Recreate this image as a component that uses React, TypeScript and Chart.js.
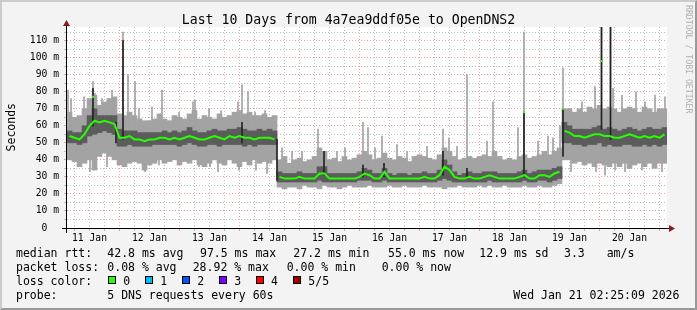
import React, { useEffect, useRef } from 'react';
import { Chart, registerables } from 'chart.js';

Chart.register(...registerables);

const TITLE = 'Last 10 Days from 4a7ea9ddf05e to OpenDNS2';
const DAY_LABELS = ['11 Jan', '12 Jan', '13 Jan', '14 Jan', '15 Jan', '16 Jan', '17 Jan', '18 Jan', '19 Jan', '20 Jan'];
const SPAN_HOURS = 240;
const SLOT_HOURS = 2;
const FIRST_MIDNIGHT = 21;
const FIRST_NOON = 9;
const Y_MAX = 118;
const Y_STEP = 5;

// outer smoke (lightest) per 2-hour slot, ms
const SMOKE_MIN = [
  40, 39, 36, 38, 40, 34, 42, 44, 42, 40,
  37, 36, 38, 39, 38, 34, 37, 38, 40, 38,
  39, 40, 37, 39, 38, 40, 37, 36, 38, 40,
  38, 37, 40, 38, 36, 39, 37, 40, 38, 39,
  38, 40, 24, 23, 24, 24, 23, 25, 24, 24,
  23, 25, 24, 24, 23, 24, 25, 24, 24, 24,
  25, 24, 24, 24, 25, 24, 24, 25, 24, 24,
  24, 25, 24, 24, 24, 23, 24, 24, 25, 24,
  24, 24, 25, 24, 25, 24, 24, 25, 24, 24,
  24, 25, 24, 24, 25, 24, 24, 25, 26, 40,
  40, 38, 39, 37, 38, 36, 38, 37, 36, 38,
  36, 38, 35, 37, 38, 36, 38, 35, 38, 38,
];
const SMOKE_MAX = [
  68, 65, 66, 70, 76, 78, 72, 74, 76, 77,
  67, 66, 68, 66, 64, 63, 63, 64, 67, 64,
  63, 66, 65, 64, 67, 69, 64, 66, 65, 64,
  67, 65, 66, 68, 69, 67, 68, 66, 66, 67,
  65, 66, 40, 42, 38, 40, 41, 39, 40, 42,
  47, 45, 40, 41, 39, 42, 40, 41, 43, 45,
  43, 40, 41, 44, 41, 40, 42, 41, 39, 42,
  43, 42, 41, 40, 43, 47, 45, 42, 40, 41,
  42, 41, 42, 43, 42, 45, 42, 40, 41, 40,
  42, 43, 41, 42, 43, 45, 43, 45, 47, 70,
  70, 68, 70, 68, 71, 70, 72, 70, 71, 70,
  68, 70, 71, 70, 68, 71, 70, 68, 70, 70,
];
// inner smoke (darker)
const CORE_LOW = [
  50, 50, 49, 50, 54, 55, 56, 57, 56, 55,
  48, 48, 49, 48, 48, 48, 48, 49, 49, 49,
  49, 49, 48, 49, 50, 49, 48, 48, 49, 49,
  48, 49, 49, 49, 49, 48, 49, 48, 49, 49,
  49, 49, 27, 27, 27, 27, 27, 27, 27, 27,
  28, 27, 27, 27, 27, 27, 27, 27, 28, 28,
  28, 27, 27, 28, 27, 27, 27, 27, 27, 27,
  27, 27, 27, 27, 28, 29, 28, 27, 27, 27,
  27, 27, 27, 27, 28, 27, 27, 27, 27, 27,
  27, 28, 27, 27, 28, 28, 27, 28, 29, 50,
  50, 49, 49, 48, 49, 49, 50, 48, 49, 48,
  48, 49, 49, 48, 48, 49, 48, 49, 48, 49,
];
const CORE_HIGH = [
  57, 56, 56, 60, 66, 70, 66, 66, 66, 66,
  58, 57, 57, 57, 56, 56, 56, 56, 56, 57,
  56, 57, 56, 57, 59, 57, 56, 56, 57, 58,
  57, 57, 58, 58, 59, 58, 57, 57, 58, 57,
  58, 57, 33, 32, 32, 32, 33, 32, 32, 32,
  36, 36, 32, 32, 32, 32, 32, 32, 33, 35,
  34, 32, 32, 35, 32, 31, 32, 32, 31, 32,
  32, 33, 32, 32, 34, 40, 37, 33, 31, 32,
  33, 32, 32, 33, 33, 33, 32, 32, 32, 32,
  33, 34, 32, 33, 34, 34, 34, 35, 36, 62,
  60, 58, 58, 58, 58, 59, 60, 58, 59, 58,
  57, 58, 59, 58, 57, 58, 59, 58, 58, 59,
];
const MEDIAN = [
  54, 53, 52, 55, 60, 63, 62, 63, 62, 61,
  53, 53, 54, 52, 52, 51, 52, 52, 53, 53,
  52, 53, 52, 53, 54, 53, 52, 52, 53, 54,
  53, 52, 54, 53, 54, 53, 53, 52, 53, 53,
  53, 52, 30, 29, 29, 29, 30, 29, 29, 29,
  32, 32, 29, 29, 29, 29, 29, 29, 30, 32,
  31, 29, 29, 33, 29, 29, 29, 29, 29, 29,
  29, 30, 29, 29, 31, 36, 34, 30, 29, 29,
  30, 29, 29, 30, 31, 30, 29, 29, 29, 29,
  30, 31, 29, 29, 31, 31, 30, 32, 33, 57,
  56, 54, 54, 53, 54, 55, 55, 54, 54, 53,
  53, 54, 55, 54, 53, 54, 53, 54, 53, 55,
];

// isolated single-pixel smoke spikes: hour, low, high (ms)
const SPIKE_HOURS = [
  0.4, 1.6, 6.8, 9.2, 10.4, 11.2, 14, 16, 18, 22.4,
  24.4, 27.2, 28.8, 31.2, 34, 36.8, 38, 44.8, 50.4, 51.2,
  52.8, 56.8, 57.2, 60.4, 61.6, 68.4, 68.8, 70, 72.4, 75.2,
  75.6, 79.2, 80, 86, 90, 94, 100.4, 108, 111.2, 118.4,
  120.4, 123.2, 126, 132, 136, 144, 150.4, 152.8, 156, 160,
  168, 170.4, 180.4, 182.8, 188.4, 192.4, 194.4, 197.2, 198.4, 201.2,
  201.6, 206, 211.2, 211.6, 213.8, 215.2, 217.4, 218.4, 219.2, 222,
  223.2, 227.6, 230, 231.2, 235.2, 238, 239.2,
];
const SPIKE_LOWS = [
  54, 53, 60, 33, 62, 63, 63, 36, 61, 53,
  54, 52, 52, 33, 52, 37, 53, 52, 53, 53,
  36, 53, 36, 33, 53, 54, 34, 54, 53, 53,
  34, 53, 32, 29, 29, 29, 32, 29, 29, 32,
  31, 29, 33, 29, 29, 30, 36, 34, 29, 29,
  31, 30, 30, 31, 31, 30, 32, 33, 57, 56,
  33, 54, 55, 33, 55, 31, 54, 53, 34, 53,
  33, 54, 34, 54, 53, 33, 55,
];
const SPIKE_HIGHS = [
  81, 76, 77, 60, 86, 79, 76, 63, 81, 115,
  90, 86, 70, 51, 71, 52, 81, 68, 74, 75,
  53, 70, 53, 53, 69, 74, 54, 84, 80, 68,
  53, 69, 53, 47, 45, 45, 58, 45, 47, 62,
  59, 47, 54, 49, 45, 48, 58, 53, 48, 90,
  51, 74, 59, 115, 51, 54, 53, 60, 94, 70,
  56, 74, 83, 55, 118, 54, 118, 82, 53, 78,
  54, 80, 53, 74, 78, 55, 77,
];
const CORE_SPIKE_HOURS = [10.4, 19.6, 22.4, 70, 84, 102.8, 118.4, 126.8, 150.4, 160, 182.8, 198.4, 213.8, 217.4];
const CORE_SPIKE_LOWS = [60, 50, 52, 50, 28, 31, 30, 30, 31, 29, 30, 42, 58, 52];
const CORE_SPIKE_HIGHS = [82, 62, 110, 62, 52, 45, 37, 38, 45, 35, 68, 70, 118, 118];
const MEDIAN_SPIKE_HOURS = [10.4, 182.8, 198.4, 213.8];
const MEDIAN_SPIKE_VALUES = [77, 68, 70, 98];

const LOSS_COLORS = ['#26ff00', '#00b8ff', '#0059ff', '#7e00ff', '#ff0000', '#a10000'];
const LOSS_LABELS = ['0', '1', '2', '3', '4', '5/5'];

const MONO = '"DejaVu Sans Mono", monospace';
const GRID_RED = 'rgba(225, 90, 90, 0.55)';
const GRID_GREY = 'rgba(170, 170, 170, 0.75)';

const plotBackground = {
  id: 'plotBackground',
  beforeDraw(chart: any) {
    const { ctx, chartArea: a } = chart;
    ctx.save();
    ctx.fillStyle = '#ffffff';
    ctx.fillRect(a.left, a.top, a.right - a.left, a.bottom - a.top);
    ctx.restore();
  },
};

const axesWithArrows = {
  id: 'axesWithArrows',
  afterDraw(chart: any) {
    const { ctx, chartArea: a } = chart;
    const yb = Math.round(a.bottom) + 0.5;
    const xl = Math.round(a.left) - 0.5;
    ctx.save();
    ctx.strokeStyle = '#000000';
    ctx.lineWidth = 1;
    ctx.beginPath();
    ctx.moveTo(a.left - 5, yb);
    ctx.lineTo(a.right + 3, yb);
    ctx.moveTo(xl, a.bottom + 5);
    ctx.lineTo(xl, a.top - 4);
    ctx.stroke();
    ctx.fillStyle = '#8b1a1a';
    ctx.beginPath();
    ctx.moveTo(a.right + 2, yb - 3.5);
    ctx.lineTo(a.right + 8, yb);
    ctx.lineTo(a.right + 2, yb + 3.5);
    ctx.closePath();
    ctx.fill();
    ctx.beginPath();
    ctx.moveTo(xl - 3.5, a.top - 1);
    ctx.lineTo(xl, a.top - 7);
    ctx.lineTo(xl + 3.5, a.top - 1);
    ctx.closePath();
    ctx.fill();
    ctx.restore();
  },
};

export default function App() {
  const ref = useRef<HTMLCanvasElement>(null);

  useEffect(() => {
    const canvas = ref.current;
    if (!canvas) return;
    const slotCenter = (i: number) => i * SLOT_HOURS + SLOT_HOURS / 2;

    const gridHours: number[] = [];
    for (let h = FIRST_MIDNIGHT % 6; h < SPAN_HOURS; h += 6) gridHours.push(h);
    const yTicks: number[] = [];
    for (let v = 0; v < Y_MAX; v += Y_STEP) yTicks.push(v);

    const chart = new Chart(canvas, {
      type: 'bar',
      data: {
        datasets: [
          {
            type: 'line',
            data: MEDIAN_SPIKE_HOURS.map((h, i) => ({ x: h, y: MEDIAN_SPIKE_VALUES[i] })),
            showLine: false,
            pointStyle: 'rect',
            pointRadius: 1.5,
            pointBackgroundColor: LOSS_COLORS[0],
            pointBorderWidth: 0,
            order: 0,
          } as any,
          {
            type: 'line',
            data: MEDIAN.map((v, i) => ({ x: slotCenter(i), y: v })),
            borderColor: LOSS_COLORS[0],
            borderWidth: 2,
            pointRadius: 0,
            tension: 0,
            segment: {
              borderColor: (c: any) =>
                Math.abs(c.p1.parsed.y - c.p0.parsed.y) > 8 ? 'rgba(0,0,0,0)' : LOSS_COLORS[0],
            },
            order: 1,
          } as any,
          {
            data: CORE_SPIKE_HOURS.map((h, i) => ({ x: h, y: [CORE_SPIKE_LOWS[i], CORE_SPIKE_HIGHS[i]] })),
            backgroundColor: '#222222',
            barThickness: 1,
            grouped: false,
            borderWidth: 0,
            order: 2,
          } as any,
          {
            data: MEDIAN.map((_, i) => ({ x: slotCenter(i), y: [CORE_LOW[i], CORE_HIGH[i]] })),
            backgroundColor: '#5c5c5c',
            barThickness: 5,
            grouped: false,
            borderWidth: 0,
            order: 3,
          } as any,
          {
            data: SPIKE_HOURS.map((h, i) => ({ x: h, y: [SPIKE_LOWS[i], SPIKE_HIGHS[i]] })),
            backgroundColor: '#a3a3a3',
            barThickness: 1,
            grouped: false,
            borderWidth: 0,
            order: 4,
          } as any,
          {
            data: MEDIAN.map((_, i) => ({ x: slotCenter(i), y: [SMOKE_MIN[i], SMOKE_MAX[i]] })),
            backgroundColor: '#a3a3a3',
            barThickness: 5,
            grouped: false,
            borderWidth: 0,
            order: 5,
          } as any,
        ],
      },
      options: {
        animation: false,
        responsive: false,
        devicePixelRatio: 1,
        layout: { padding: { left: 0, right: 30, top: 27, bottom: 0 } },
        plugins: {
          legend: { display: false },
          tooltip: { enabled: false },
          title: { display: false },
        },
        scales: {
          x: {
            type: 'linear',
            min: 0,
            max: SPAN_HOURS,
            offset: false,
            grid: {
              offset: false,
              lineWidth: 1,
              drawTicks: true,
              tickLength: 3,
              color: (c: any) => {
                const v = c.tick ? c.tick.value : 0;
                return (v - FIRST_MIDNIGHT) % 24 === 0 ? GRID_RED : GRID_GREY;
              },
            },
            border: { display: false, dash: [1, 2] },
            ticks: {
              autoSkip: false,
              maxRotation: 0,
              minRotation: 0,
              padding: 2,
              color: '#000000',
              font: { family: MONO, size: 9.7 },
              callback: (value: any) => {
                const h = Number(value);
                if ((h - FIRST_NOON) % 24 === 0) return DAY_LABELS[(h - FIRST_NOON) / 24] || '';
                return '';
              },
            },
            afterBuildTicks: (scale: any) => {
              scale.ticks = gridHours.map((v) => ({ value: v }));
            },
            afterFit: (scale: any) => {
              scale.height = 82;
            },
          },
          y: {
            type: 'linear',
            min: 0,
            max: Y_MAX,
            grid: {
              lineWidth: 1,
              drawTicks: true,
              tickLength: 3,
              color: (c: any) => {
                const v = c.tick ? c.tick.value : 0;
                return v % 10 === 0 ? GRID_RED : GRID_GREY;
              },
            },
            border: { display: false, dash: [1, 2] },
            ticks: {
              autoSkip: false,
              padding: 5,
              color: '#000000',
              font: { family: MONO, size: 9.7 },
              callback: (value: any) => {
                const v = Number(value);
                if (v === 0) return '0  ';
                if (v % 10 === 0) return v + ' m';
                return '';
              },
            },
            afterBuildTicks: (scale: any) => {
              scale.ticks = yTicks.map((v) => ({ value: v }));
            },
            afterFit: (scale: any) => {
              scale.width = 67;
            },
          },
        },
      } as any,
      plugins: [plotBackground, axesWithArrows],
    });
    return () => chart.destroy();
  }, []);

  const text = (left: number, top: number, s: string, key: string) => (
    <span
      key={key}
      style={{
        position: 'absolute',
        left,
        top,
        fontFamily: MONO,
        fontSize: '11.5px',
        lineHeight: '14px',
        whiteSpace: 'pre',
        color: '#000',
      }}
    >
      {s}
    </span>
  );

  const boxX = [108, 145, 182, 219, 256, 293];
  const boxLabelX = [123.3, 160.3, 197.3, 234.3, 271, 308.3];

  return (
    <div
      style={{
        position: 'fixed',
        left: 0,
        top: 0,
        width: 697,
        height: 310,
        background: '#f3f3f3',
        overflow: 'hidden',
      }}
    >
      <canvas ref={ref} width={697} height={310} style={{ position: 'absolute', left: 0, top: 0, width: 697, height: 310 }} />
      <div
        style={{
          position: 'absolute',
          left: 0,
          top: 0,
          width: 697,
          height: 310,
          boxSizing: 'border-box',
          borderTop: '2px solid #cbcbcb',
          borderLeft: '2px solid #cbcbcb',
          borderBottom: '2px solid #999999',
          borderRight: '2px solid #999999',
          pointerEvents: 'none',
        }}
      />
      <div
        style={{
          position: 'absolute',
          left: 0,
          top: 11.5,
          width: 697,
          textAlign: 'center',
          fontFamily: MONO,
          fontSize: '13.2px',
          lineHeight: '16px',
          whiteSpace: 'pre',
          color: '#000',
        }}
      >
        {TITLE}
      </div>
      <div
        style={{
          position: 'absolute',
          left: 4.5,
          top: 103,
          writingMode: 'vertical-rl',
          transform: 'rotate(180deg)',
          fontFamily: MONO,
          fontSize: '11.5px',
          lineHeight: '12px',
          whiteSpace: 'pre',
          color: '#000',
        }}
      >
        Seconds
      </div>
      <div
        style={{
          position: 'absolute',
          left: 683.5,
          top: 5,
          writingMode: 'vertical-rl',
          fontFamily: MONO,
          fontSize: '8.2px',
          lineHeight: '9px',
          whiteSpace: 'pre',
          color: '#b0b0b0',
        }}
      >
        RRDTOOL / TOBI OETIKER
      </div>
      {text(16, 246, 'median rtt:', 'a0')}
      {text(107.3, 246, '42.8 ms avg', 'a1')}
      {text(200, 246, '97.5 ms max', 'a2')}
      {text(293.3, 246, '27.2 ms min', 'a3')}
      {text(388, 246, '55.0 ms now', 'a4')}
      {text(479.3, 246, '12.9 ms sd', 'a5')}
      {text(564, 246, '3.3', 'a6')}
      {text(606.7, 246, 'am/s', 'a7')}
      {text(16, 260, 'packet loss:', 'b0')}
      {text(107.3, 260, '0.08 % avg', 'b1')}
      {text(192.7, 260, '28.92 % max', 'b2')}
      {text(286.7, 260, '0.00 % min', 'b3')}
      {text(381.7, 260, '0.00 % now', 'b4')}
      {text(16, 274, 'loss color:', 'c0')}
      {LOSS_COLORS.map((c, i) => (
        <span
          key={'box' + i}
          style={{
            position: 'absolute',
            left: boxX[i],
            top: 276,
            width: 8,
            height: 8,
            boxSizing: 'border-box',
            border: '1px solid #000',
            background: c,
          }}
        />
      ))}
      {LOSS_LABELS.map((l, i) => text(boxLabelX[i], 274, l, 'cl' + i))}
      {text(16, 287.5, 'probe:', 'd0')}
      {text(107.3, 287.5, '5 DNS requests every 60s', 'd1')}
      {text(513.3, 287.5, 'Wed Jan 21 02:25:09 2026', 'd2')}
    </div>
  );
}
